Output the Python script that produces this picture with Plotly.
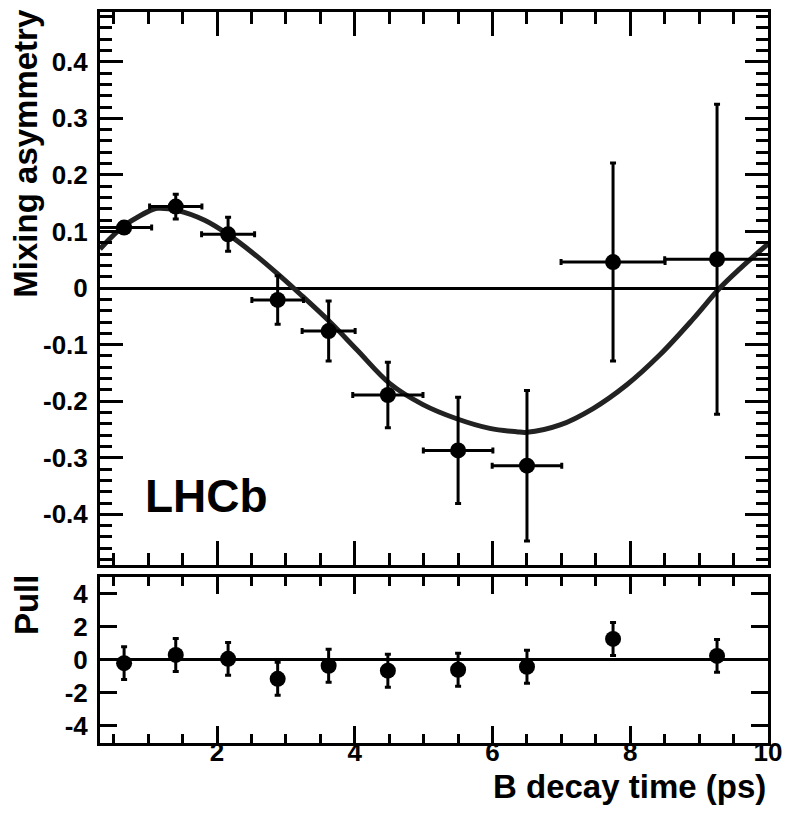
import plotly.graph_objects as go
from plotly.subplots import make_subplots

# ---- data ----
time_ps = [0.65, 1.40, 2.16, 2.88, 3.62, 4.48, 5.50, 6.50, 7.75, 9.26]
time_halfwidth = [0.40, 0.38, 0.385, 0.375, 0.385, 0.51, 0.505, 0.505, 0.755, 0.76]
asymmetry = [0.107, 0.144, 0.095, -0.021, -0.076, -0.189, -0.287, -0.314, 0.046, 0.051]
asym_err = [0.010, 0.022, 0.030, 0.043, 0.053, 0.058, 0.094, 0.133, 0.175, 0.274]

pull = [-0.2, 0.3, 0.06, -1.15, -0.36, -0.66, -0.6, -0.42, 1.27, 0.24]
pull_err = [1, 1, 1, 1, 1, 1, 1, 1, 1, 1]

fit_t = [0.30, 0.66, 1.07, 1.14, 1.43, 1.82, 2.16, 2.51, 2.88, 3.20, 3.64, 4.03,
         4.51, 4.99, 5.48, 5.96, 6.35, 6.50, 6.98, 7.46, 7.95, 8.43, 8.91, 9.30,
         9.59, 10.0]
fit_asym = [0.069, 0.111, 0.139, 0.141, 0.137, 0.120, 0.095, 0.063, 0.025, -0.010,
            -0.060, -0.109, -0.169, -0.206, -0.231, -0.248, -0.254, -0.255, -0.242,
            -0.213, -0.171, -0.118, -0.055, 0.0, 0.034, 0.078]

top_tickvals = [-0.4, -0.3, -0.2, -0.1, 0, 0.1, 0.2, 0.3, 0.4]
top_ticktext = ["-0.4", "-0.3", "-0.2", "-0.1", "0", "0.1", "0.2", "0.3", "0.4"]
pull_tickvals = [-4, -2, 0, 2, 4]
pull_ticktext = ["-4", "-2", "0", "2", "4"]
x_tickvals = [2, 4, 6, 8, 10]
x_ticktext = ["2", "4", "6", "8", "10"]

FONT = "Liberation Sans"
X_RANGE = [0.3, 10]

fig = make_subplots(rows=2, cols=1, shared_xaxes=True, vertical_spacing=0.0)

fig.add_trace(go.Scatter(x=fit_t, y=fit_asym, mode="lines",
                         line=dict(color="#222222", width=5, shape="spline"),
                         showlegend=False, hoverinfo="skip"), row=1, col=1)

fig.add_trace(go.Scatter(
    x=time_ps, y=asymmetry, mode="markers",
    marker=dict(color="black", size=16),
    error_x=dict(type="data", array=time_halfwidth, color="black", thickness=3, width=3),
    error_y=dict(type="data", array=asym_err, color="black", thickness=3, width=3),
    showlegend=False), row=1, col=1)

fig.add_trace(go.Scatter(
    x=time_ps, y=pull, mode="markers",
    marker=dict(color="black", size=16),
    error_y=dict(type="data", array=pull_err, color="black", thickness=3, width=3),
    showlegend=False), row=2, col=1)

# invisible trace on an overlay x axis that only carries the tick labels
fig.add_trace(go.Scatter(x=[None], y=[None], xaxis="x3", yaxis="y2",
                         showlegend=False, hoverinfo="skip"))

tickfont = dict(family=FONT, size=26, color="black", weight="bold")

common_axis = dict(showline=True, linewidth=3, linecolor="black", mirror="ticks",
                   ticks="inside", tickwidth=3, tickcolor="black", showgrid=False,
                   tickfont=tickfont)

fig.update_xaxes(**common_axis, range=X_RANGE, zeroline=False,
                 tickmode="array", tickvals=x_tickvals, ticktext=x_ticktext,
                 showticklabels=False)
fig.update_xaxes(row=1, col=1, ticklen=24,
                 minor=dict(tickmode="linear", tick0=0, dtick=0.5, ticklen=12, ticks="inside",
                            tickwidth=3, tickcolor="black"))
fig.update_xaxes(row=2, col=1, ticklen=17,
                 minor=dict(tickmode="linear", tick0=0, dtick=0.5, ticklen=9, ticks="inside",
                            tickwidth=3, tickcolor="black"))

fig.update_yaxes(**common_axis, zeroline=True, zerolinewidth=3, zerolinecolor="black")
fig.update_yaxes(row=1, col=1, range=[-0.489, 0.488], tickmode="array",
                 tickvals=top_tickvals, ticktext=top_ticktext, ticklen=23, ticklabelstandoff=4,
                 minor=dict(tickmode="linear", tick0=0, dtick=0.02, ticklen=12, ticks="inside",
                            tickwidth=3, tickcolor="black"),
                 domain=[0.2439, 1.0])
fig.update_yaxes(row=2, col=1, range=[-5.05, 5.05], tickmode="array",
                 tickvals=pull_tickvals, ticktext=pull_ticktext, ticklen=17, ticklabelstandoff=4,
                 domain=[0.0, 0.2275])

# page body has an 8px margin: figure coordinates = screen coordinates - 8
fig.update_layout(
    width=783, height=805,
    margin=dict(l=92, r=23, t=1, b=70),
    plot_bgcolor="white", paper_bgcolor="white",
    font=dict(family=FONT, color="black"),
    xaxis3=dict(overlaying="x2", anchor="free", position=0.0177, side="bottom", range=X_RANGE,
                tickmode="array", tickvals=x_tickvals, ticktext=x_ticktext,
                ticks="", showline=False, showgrid=False, zeroline=False,
                tickfont=tickfont, ticklabelstandoff=4),
    annotations=[
        dict(text="B decay time (ps)", xref="paper", yref="paper", x=1.0, y=-0.0599,
             xanchor="right", yanchor="middle", showarrow=False,
             font=dict(family=FONT, size=33, color="black", weight="bold")),
        dict(text="Mixing asymmetry", xref="paper", yref="paper", x=-0.1108, y=1.008,
             xanchor="center", yanchor="top", textangle=-90, showarrow=False,
             font=dict(family=FONT, size=33, color="black", weight="bold")),
        dict(text="Pull", xref="paper", yref="paper", x=-0.1108, y=0.2345,
             xanchor="center", yanchor="top", textangle=-90, showarrow=False,
             font=dict(family=FONT, size=33, color="black", weight="bold")),
        dict(text="LHCb", xref="paper", yref="paper", x=0.1587, y=0.3379,
             xanchor="center", yanchor="middle", showarrow=False,
             font=dict(family=FONT, size=46, color="black", weight="bold")),
    ],
)

fig.write_html("out.html")
